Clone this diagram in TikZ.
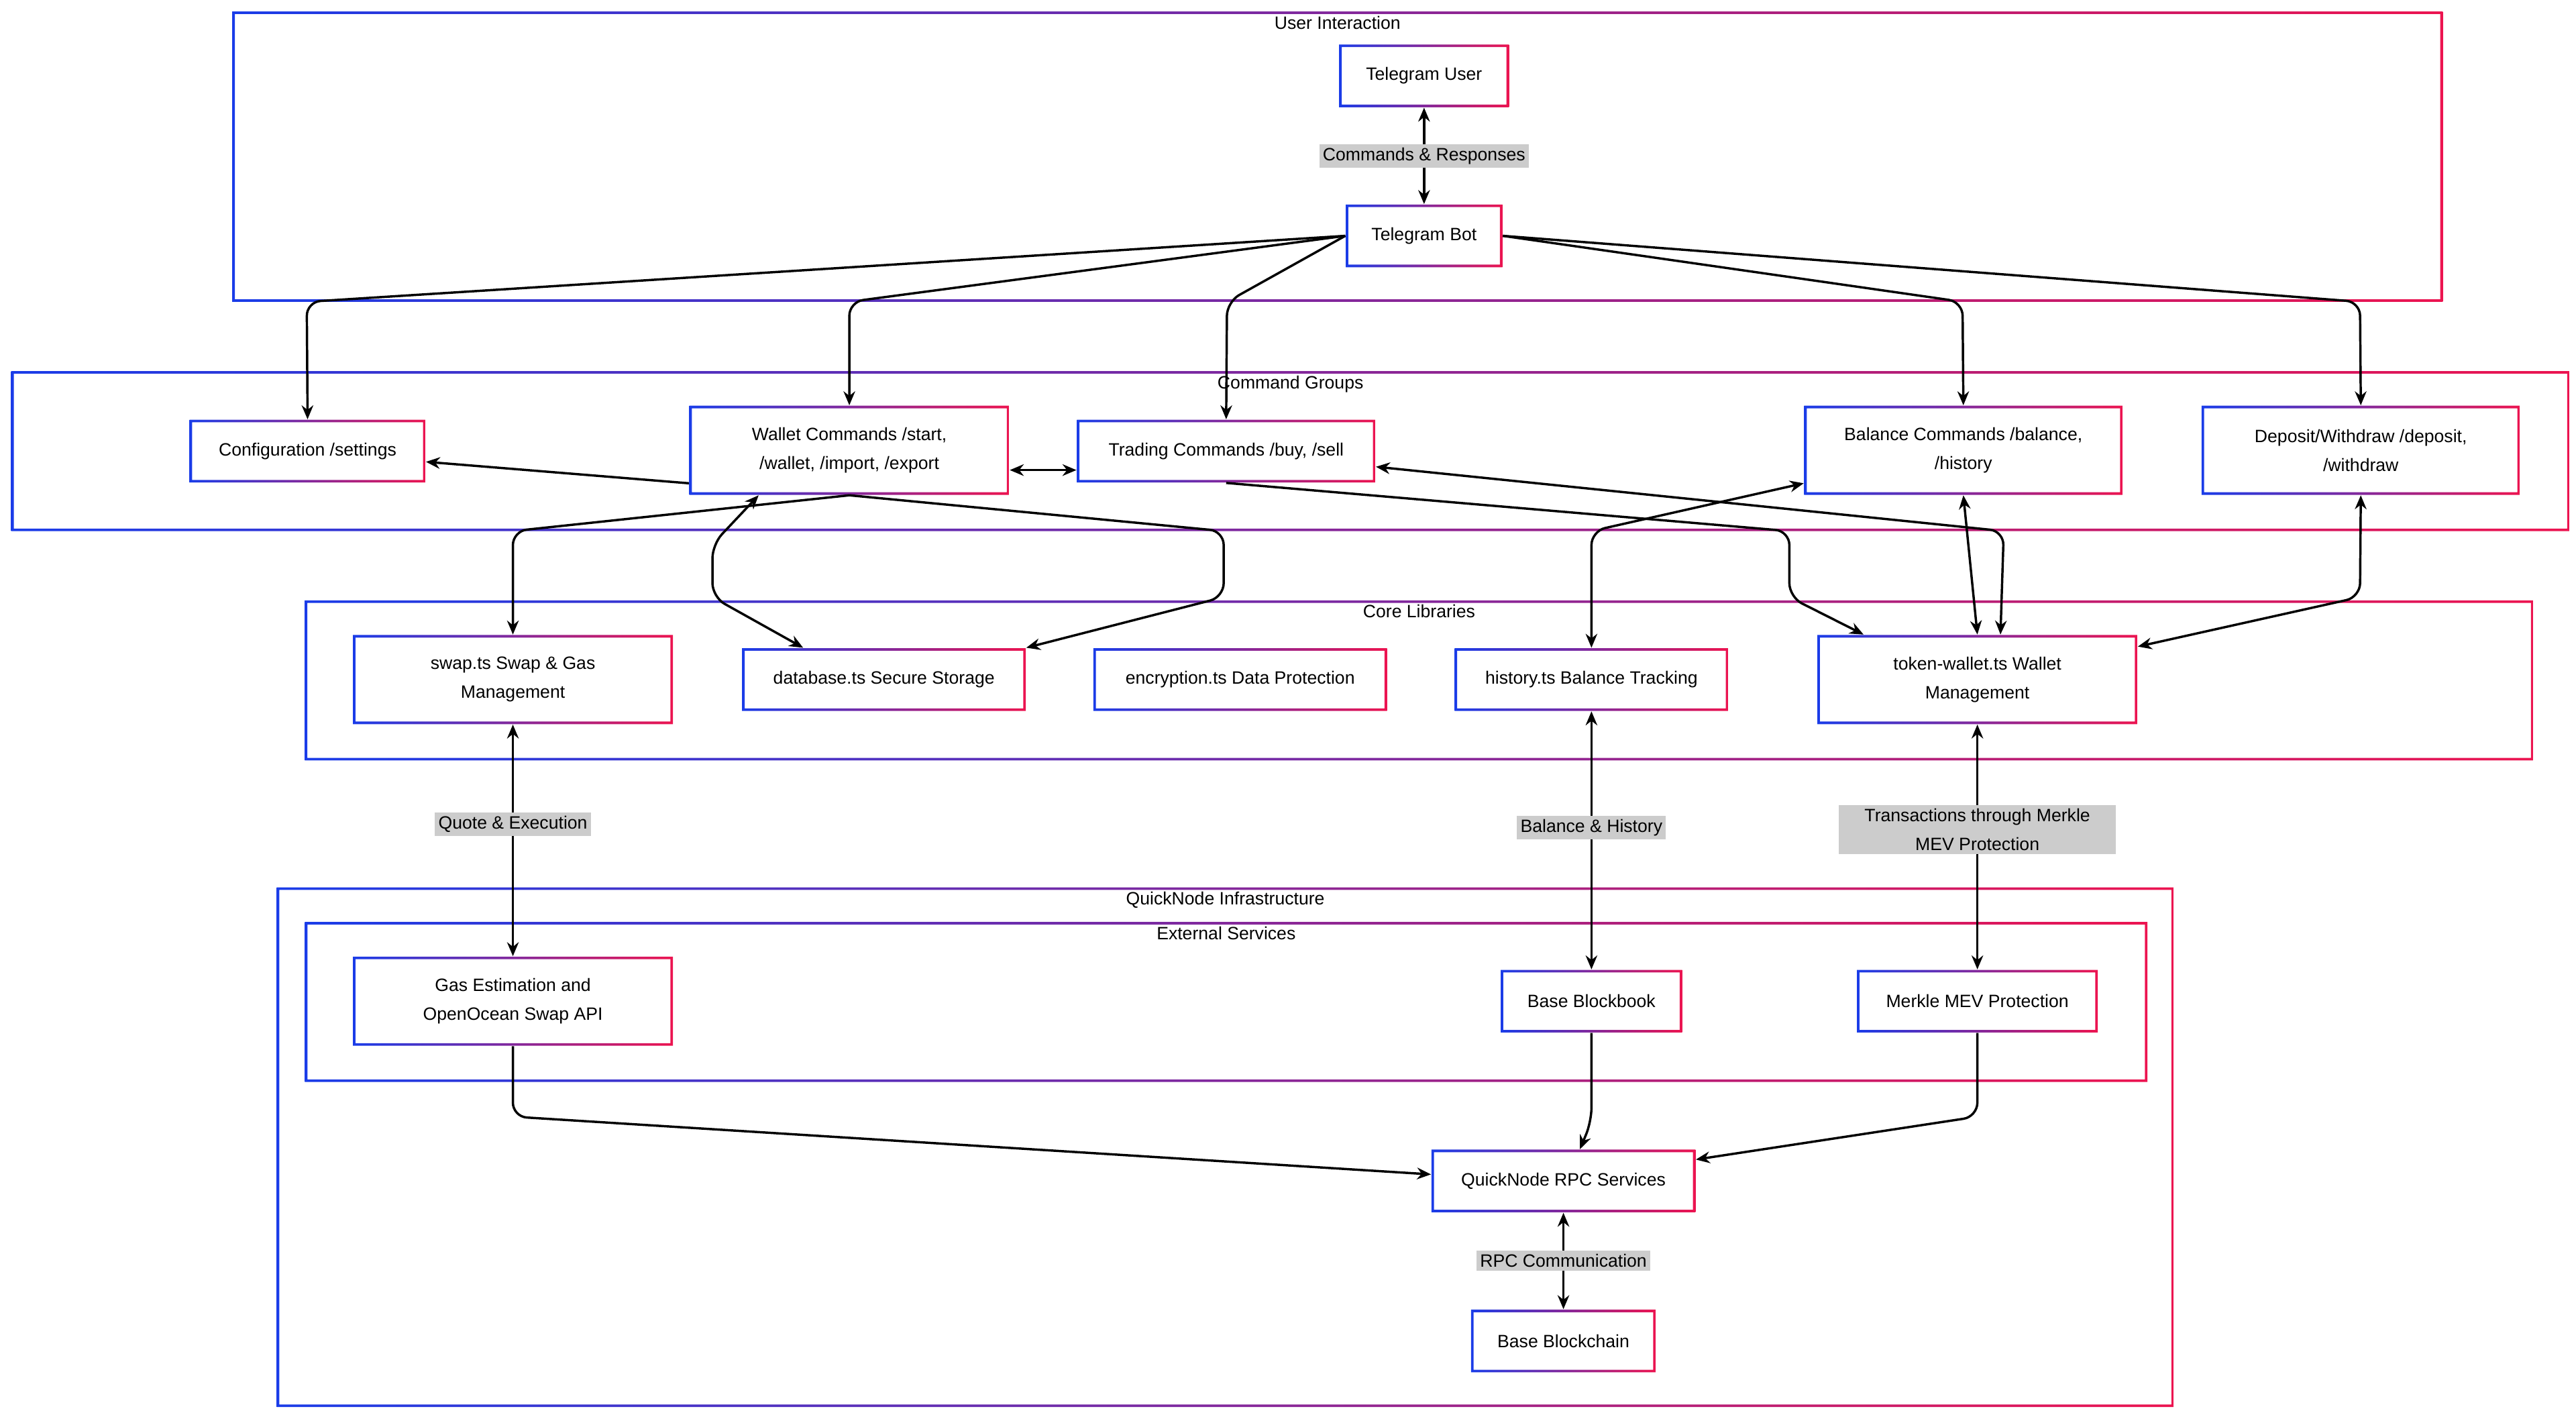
\documentclass[tikz,border=0pt]{standalone}
\usepackage{fontspec}
\setmainfont{Liberation Sans}
\usetikzlibrary{arrows.meta}
\definecolor{gblue}{HTML}{1A3CE8}
\definecolor{gred}{HTML}{EC1450}
\tikzset{
  gshade/.style={path picture={
    \shade[left color=gblue, right color=gred, even odd rule]
      (path picture bounding box.south west) rectangle (path picture bounding box.north east)
      ([shift={(#1,#1)}]path picture bounding box.south west) rectangle ([shift={(-#1,-#1)}]path picture bounding box.north east);}},
  box/.style={gshade=1.1pt, minimum height=0.95cm, align=center, font=\fontsize{7.7}{12.5}\selectfont, inner sep=0pt},
  group/.style={gshade=1.1pt, inner sep=0pt},
  gtitle/.style={anchor=north, font=\fontsize{7.7}{9}\selectfont, inner sep=1pt},
  lbl/.style={fill=black!20, rounded corners=0pt, font=\fontsize{7.7}{12.5}\selectfont, inner sep=1.5pt, align=center},
  conn/.style={line width=1pt, rounded corners=6pt}
}
\begin{document}
\begin{tikzpicture}[x=0.025cm, y=-0.025cm, >={Stealth[length=6pt,width=5pt]}]
\useasboundingbox (0,0) rectangle (1562,859);
% containers
\node[group, minimum width=33.5cm, minimum height=4.4cm] (ui) at (811,95) {};
\node[gtitle] at (811,8) {User Interaction};
\node[group, minimum width=38.775cm, minimum height=2.425cm] (cg) at (782.5,273.5) {};
\node[gtitle] at (782.5,226) {Command Groups};
\node[group, minimum width=33.775cm, minimum height=2.425cm] (cl) at (860.5,412.5) {};
\node[gtitle] at (860.5,365) {Core Libraries};
\node[group, minimum width=28.75cm, minimum height=7.875cm] (qn) at (743,695.5) {};
\node[gtitle] at (743,539) {QuickNode Infrastructure};
\node[group, minimum width=27.925cm, minimum height=2.425cm] (es) at (743.5,607.5) {};
\node[gtitle] at (743.5,560) {External Services};
% nodes
\node[box, minimum width=2.575cm] (user) at (863.5,46) {Telegram User};
\node[box, minimum width=2.375cm] (bot) at (863.5,143) {Telegram Bot};
\node[box, minimum width=3.575cm] (config) at (186.5,273.5) {Configuration /settings};
\node[box, minimum width=4.85cm, minimum height=1.35cm] (wallet) at (515,273) {Wallet Commands /start,\\/wallet, /import, /export};
\node[box, minimum width=4.525cm] (trading) at (743.5,273.5) {Trading Commands /buy, /sell};
\node[box, minimum width=4.825cm, minimum height=1.35cm] (balance) at (1190.5,273) {Balance Commands /balance,\\/history};
\node[box, minimum width=4.825cm, minimum height=1.35cm] (deposit) at (1431.5,273) {Deposit/Withdraw /deposit,\\/withdraw};
\node[box, minimum width=4.85cm, minimum height=1.35cm] (swap) at (311,412) {swap.ts Swap \& Gas\\Management};
\node[box, minimum width=4.3cm] (database) at (536,412) {database.ts Secure Storage};
\node[box, minimum width=4.45cm] (encryption) at (752,412) {encryption.ts Data Protection};
\node[box, minimum width=4.15cm] (history) at (965,412) {history.ts Balance Tracking};
\node[box, minimum width=4.85cm, minimum height=1.35cm] (tokenwallet) at (1199,412) {token-wallet.ts Wallet\\Management};
\node[box, minimum width=4.85cm, minimum height=1.35cm] (gas) at (311,607) {Gas Estimation and\\OpenOcean Swap API};
\node[box, minimum width=2.75cm] (blockbook) at (965,607) {Base Blockbook};
\node[box, minimum width=3.65cm] (merkle) at (1199,607) {Merkle MEV Protection};
\node[box, minimum width=4cm] (rpc) at (948,716) {QuickNode RPC Services};
\node[box, minimum width=2.8cm] (chain) at (948,813) {Base Blockchain};
% connectors
\draw[conn, <->] (user) -- node[lbl] {Commands \& Responses} (bot);
\draw[conn, ->] (bot.west) -- (186,183) -- (config.north);
\draw[conn, ->] (bot.west) -- (515,183) -- (wallet.north);
\draw[conn, ->] (bot.west) -- (744,183) -- (trading.north);
\draw[conn, ->] (bot.east) -- (1190,183) -- (balance.north);
\draw[conn, ->] (bot.east) -- (1431,183) -- (deposit.north);
\draw[conn, ->] (wallet.west |- 0,293) -- (config.east |- 0,280);
\draw[conn, <->] (wallet.east |- 0,285) -- (trading.west |- 0,285);
\draw[conn, ->] (wallet.south) -- (311,322) -- (swap.north);
\draw[conn, <->] (wallet.south -| 460,0) -- (432,330) -- (432,362) -- (database.north -| 487,0);
\draw[conn, ->] (wallet.south) -- (742,322) -- (742,362) -- (database.north east);
\draw[conn, ->] (trading.south) -- (1085,322) -- (1085,362) -- (tokenwallet.north west -| 1130,0);
\draw[conn, <->] (history.north) -- (965,322) -- (balance.south west |- 0,293);
\draw[conn, <->] (balance.south) -- (tokenwallet.north);
\draw[conn, <->] (tokenwallet.north -| 1213,0) -- (1215,322) -- (trading.east |- 0,283);
\draw[conn, <->] (deposit.south) -- (1431,362) -- (tokenwallet.east |- 0,392);
\draw[conn, <->] (swap) -- node[lbl, pos=0.43] {Quote \& Execution} (gas);
\draw[conn, <->] (history) -- node[lbl, pos=0.45] {Balance \& History} (blockbook);
\draw[conn, <->] (tokenwallet) -- node[lbl, pos=0.43, minimum width=4.2cm] {Transactions through Merkle\\MEV Protection} (merkle);
\draw[conn, ->] (gas.south) -- (311,677) -- (rpc.west |- 0,712);
\draw[conn, ->] (blockbook.south) -- (965,680) -- (rpc.north -| 958,0);
\draw[conn, ->] (merkle.south) -- (1199,677) -- (rpc.east |- 0,703);
\draw[conn, <->] (rpc) -- node[lbl] {RPC Communication} (chain);
\end{tikzpicture}
\end{document}
